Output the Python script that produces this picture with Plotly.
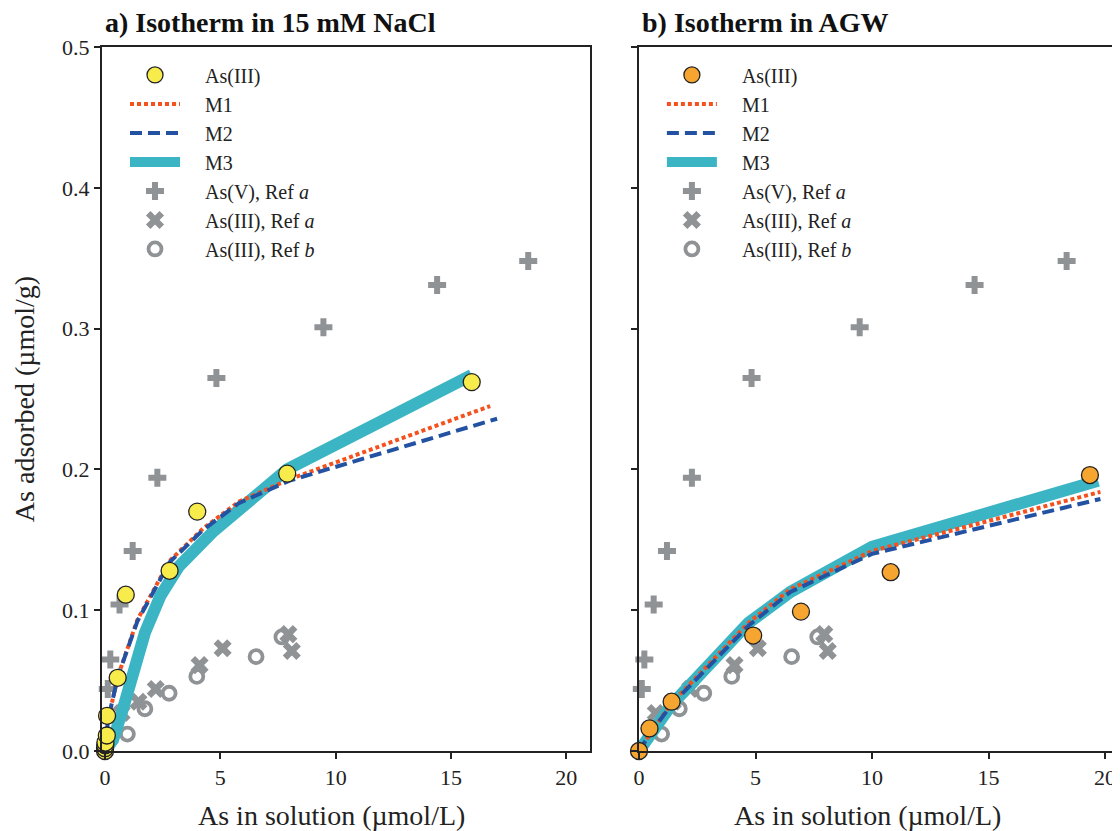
import plotly.graph_objects as go

# ---------------- data ----------------
# Panel a) 15 mM NaCl, As(III) measured
nacl_x = [0.0, 0.0, 0.01, 0.02, 0.08, 0.09, 0.55, 0.9, 2.8, 4.0, 7.9, 15.9]
nacl_y = [0.0, 0.002, 0.004, 0.006, 0.011, 0.025, 0.052, 0.111, 0.128, 0.170, 0.197, 0.262]
# Panel b) AGW, As(III) measured
agw_x = [0.0, 0.45, 1.4, 4.9, 6.95, 10.8, 19.35]
agw_y = [0.0, 0.016, 0.035, 0.082, 0.099, 0.127, 0.196]

# Model curves, panel a
m1_nacl_x = [0.0, 0.13, 0.56, 1.4, 2.8, 4.25, 5.8, 8.0, 16.7]
m1_nacl_y = [0.0, 0.022, 0.053, 0.093, 0.135, 0.158, 0.177, 0.193, 0.245]
m2_nacl_x = [0.0, 0.13, 0.56, 1.4, 2.8, 4.25, 5.8, 8.0, 17.0]
m2_nacl_y = [0.0, 0.022, 0.053, 0.092, 0.134, 0.157, 0.176, 0.192, 0.236]
m3_nacl_x = [0.0, 0.35, 0.78, 1.25, 1.73, 2.4, 3.2, 4.7, 7.9, 15.9]
m3_nacl_y = [0.0, 0.008, 0.030, 0.058, 0.084, 0.110, 0.131, 0.156, 0.200, 0.267]

# Model curves, panel b
m1_agw_x = [0.0, 0.5, 1.4, 4.7, 6.5, 10.0, 19.8]
m1_agw_y = [0.0, 0.013, 0.034, 0.091, 0.115, 0.142, 0.184]
m2_agw_x = [0.0, 0.5, 1.4, 4.7, 6.5, 10.0, 19.8]
m2_agw_y = [0.0, 0.013, 0.033, 0.089, 0.113, 0.140, 0.179]
m3_agw_x = [0.0, 0.5, 1.4, 4.7, 6.5, 10.0, 19.7]
m3_agw_y = [0.0, 0.012, 0.033, 0.091, 0.113, 0.145, 0.192]

# Literature reference data (same in both panels)
ref_v_a_x = [0.12, 0.23, 0.63, 1.2, 2.27, 4.83, 9.47, 14.4, 18.35]
ref_v_a_y = [0.044, 0.065, 0.104, 0.142, 0.194, 0.265, 0.301, 0.331, 0.348]
ref_iii_a_x = [0.72, 1.45, 2.2, 4.1, 5.1, 7.95, 8.1]
ref_iii_a_y = [0.027, 0.035, 0.044, 0.061, 0.073, 0.083, 0.071]
ref_iii_b_x = [0.0, 0.97, 1.73, 2.78, 3.98, 6.55, 7.67]
ref_iii_b_y = [0.0, 0.012, 0.030, 0.041, 0.053, 0.067, 0.081]

x_ticks = [0, 5, 10, 15, 20]
y_ticks = [0.0, 0.1, 0.2, 0.3, 0.4, 0.5]

panel_titles = ["a) Isotherm in 15 mM NaCl", "b) Isotherm in AGW"]
x_title = "As in solution (µmol/L)"
y_title = "As adsorbed (µmol/g)"

# ---------------- style ----------------
FONT = "Liberation Serif"
GRAY = "#8f9396"
RED = "#f4511e"
BLUE = "#2352a3"
TEAL = "#3bb5c4"
YELLOW = "#f8eb4c"
ORANGE = "#f7a531"
PAD = "\u00a0\u00a0\u00a0\u00a0"

fig = go.Figure()


def add_panel(col, meas_x, meas_y, meas_color, m1x, m1y, m2x, m2y, m3x, m3y):
    xa = "x" if col == 1 else "x2"
    ya = "y" if col == 1 else "y2"
    lg = "legend" if col == 1 else "legend2"
    common = dict(xaxis=xa, yaxis=ya, legend=lg)
    fig.add_trace(go.Scatter(x=ref_v_a_x, y=ref_v_a_y, mode="markers", cliponaxis=False,
                             name=PAD + "As(V), Ref <i>a</i>", legendrank=5,
                             marker=dict(symbol="cross", size=15, color=GRAY,
                                         line=dict(width=0)), **common))
    fig.add_trace(go.Scatter(x=ref_iii_a_x, y=ref_iii_a_y, mode="markers", cliponaxis=False,
                             name=PAD + "As(III), Ref <i>a</i>", legendrank=6,
                             marker=dict(symbol="x", size=16, color=GRAY,
                                         line=dict(width=0)), **common))
    fig.add_trace(go.Scatter(x=ref_iii_b_x, y=ref_iii_b_y, mode="markers", cliponaxis=False,
                             name=PAD + "As(III), Ref <i>b</i>", legendrank=7,
                             marker=dict(symbol="circle-open", size=13, color=GRAY,
                                         line=dict(width=3.8, color=GRAY)), **common))
    fig.add_trace(go.Scatter(x=m3x, y=m3y, mode="lines", name=PAD + "M3", legendrank=4,
                             line=dict(color=TEAL, width=12), **common))
    fig.add_trace(go.Scatter(x=m1x, y=m1y, mode="lines", name=PAD + "M1", legendrank=2,
                             line=dict(color=RED, width=4, dash="4px,3px"), **common))
    fig.add_trace(go.Scatter(x=m2x, y=m2y, mode="lines", name=PAD + "M2", legendrank=3,
                             line=dict(color=BLUE, width=4, dash="12px,6px"), **common))
    fig.add_trace(go.Scatter(x=meas_x, y=meas_y, mode="markers", name=PAD + "As(III)",
                             legendrank=1, cliponaxis=False,
                             marker=dict(symbol="circle", size=17, color=meas_color,
                                         line=dict(width=1.3, color="#222222")), **common))


add_panel(1, nacl_x, nacl_y, YELLOW, m1_nacl_x, m1_nacl_y, m2_nacl_x, m2_nacl_y,
          m3_nacl_x, m3_nacl_y)
add_panel(2, agw_x, agw_y, ORANGE, m1_agw_x, m1_agw_y, m2_agw_x, m2_agw_y,
          m3_agw_x, m3_agw_y)

axis_common = dict(showline=True, linecolor="#222222", linewidth=2, ticks="outside",
                   ticklen=6, tickwidth=1.5, tickcolor="#222222", showgrid=False,
                   zeroline=False, automargin=False,
                   tickfont=dict(family=FONT, size=22, color="#222222"))

legend_common = dict(font=dict(family=FONT, size=20, color="#222222"),
                     bgcolor="rgba(0,0,0,0)", borderwidth=0, itemwidth=50,
                     yanchor="top", xanchor="left", tracegroupgap=0)

fig.update_layout(
    width=1112, height=823,
    margin=dict(l=94, r=0, t=39, b=80),
    paper_bgcolor="white", plot_bgcolor="white",
    font=dict(family=FONT, color="#222222"),
    xaxis=dict(domain=[0, 0.4794], range=[-0.13, 21.03], tickvals=x_ticks, mirror=True,
               **axis_common),
    xaxis2=dict(domain=[0.5275, 1], range=[0, 20.64], tickvals=x_ticks, mirror=True,
                **axis_common),
    yaxis=dict(range=[0, 0.5], tickvals=y_ticks, tickformat=".1f", mirror=True,
               title=dict(text=y_title, font=dict(family=FONT, size=28), standoff=19),
               **axis_common),
    yaxis2=dict(range=[0, 0.5], tickvals=y_ticks, showticklabels=False, mirror=False,
                anchor="x2", **axis_common),
    legend=dict(x=0.0226, y=0.988, **legend_common),
    legend2=dict(x=0.55, y=0.988, **legend_common),
    showlegend=True,
)

for t, xr in zip(panel_titles, ["x domain", "x2 domain"]):
    fig.add_annotation(text="<b>" + t + "</b>", xref=xr, yref="paper", x=0, y=1.0355,
                       xanchor="left", yanchor="middle", showarrow=False, xshift=1,
                       font=dict(family=FONT, size=28, color="#111111"))

# x-axis titles placed under each panel
for xpos in [0.2259, 0.7524]:
    fig.add_annotation(text=x_title, xref="paper", yref="paper", x=xpos, y=-0.091,
                       xanchor="center", yanchor="middle", showarrow=False,
                       font=dict(family=FONT, size=28, color="#222222"))

fig.write_html("out.html")
